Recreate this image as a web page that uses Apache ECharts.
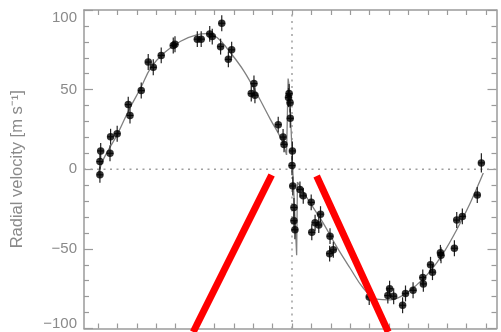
<!DOCTYPE html>
<html><head><meta charset="utf-8">
<script src="https://cdn.jsdelivr.net/npm/echarts@6/dist/echarts.min.js"></script>
<style>html,body{margin:0;padding:0;background:#fff}#c{width:501px;height:332px}</style>
</head><body><div id="c"></div><script>
// observed radial velocities (x in hours from mid-transit, v in m/s)
const obsX = [-9.90,-9.90,-9.86,-9.38,-9.35,-9.01,-8.44,-8.35,-7.77,-7.41,-7.15,-6.74,-6.12,-6.03,-4.88,-4.68,-4.24,-4.11,-3.62,-3.68,-3.28,-3.11,-1.96,-2.10,-1.91,-0.71,-0.46,-0.41,-0.15,-0.18,-0.10,-0.09,0.02,0.00,0.04,0.10,0.10,0.15,0.41,0.58,0.99,1.47,1.19,1.38,1.02,1.96,2.13,1.94,3.98,5.03,4.94,5.24,5.70,5.85,6.24,6.77,6.74,7.24,7.14,7.65,7.68,8.37,8.49,8.78,9.55,9.76];
const obsV = [-3.5,4.8,11.5,10,20.4,22.3,40.6,33.8,49.4,67.3,64,71.5,77.7,78.5,81.7,81.7,85,83.3,91.7,77,69,75,53.8,47.5,46.5,28,20.2,15.6,47.5,45,41.7,32,11.5,2.3,-10.5,-24,-32.3,-38,-12.7,-16.7,-20.8,-28.2,-33.6,-35,-39.6,-42,-50.6,-53,-80.2,-75,-79.3,-79.7,-85.4,-78,-76,-72,-68,-64.6,-60,-52.5,-54,-49.6,-31.9,-29.6,-16.2,4];
const obsErr = [5,5,5,5,5,5,5,5,5,5,5,5,5,5,5,5,5,5,5,5,5,5,5,5,5,5,5,5,6,6,6,6,6,6,6,6,6,6,5,5,5,5,5,5,5,5,5,5,5,5,5,5,5,5,5,5,5,5,5,5,5,5,5,5,5,6];
// model curve
const modelLeftX = [-10.00,-9.69,-9.01,-8.40,-7.80,-7.28,-6.60,-5.74,-4.88,-4.37,-3.85,-3.16,-2.47,-1.79,-1.10,-0.58,-0.28];
const modelLeftV = [-3,7,21.7,37.4,51,63.6,73,80.4,84.6,85.2,82.5,73,61.5,46.9,31,19.6,9];
const modelRMX = [-0.28,-0.20,-0.14,0.04,0.24,0.28];
const modelRMV = [9,57,52,0,-54,-8];
const modelRightX = [0.28,0.93,1.61,2.30,2.99,3.68,4.37,5.05,5.74,6.43,7.11,7.80,8.49,9.18,9.86];
const modelRightV = [-8,-21,-33.8,-48.6,-62,-74.7,-81.6,-82,-79,-72.6,-64.3,-52.7,-38,-21.3,-2.4];
// red annotation strokes
const redLeftX = [-1.05,-5.09];
const redLeftV = [-3.6,-102.2];
const redRightX = [1.27,4.96];
const redRightV = [-4.2,-102.2];
// axes
const xTickValues = [-10,-9,-8,-7,-6,-5,-4,-3,-2,-1,0,1,2,3,4,5,6,7,8,9,10];
const X_MIN = -10.72, X_MAX = 10.54;
const yTickLabels = ['−100','−50','0','50','100'];

const zip = (a,b) => a.map((v,i)=>[v,b[i]]);
const axisGray = '#9a9a9a';
const labelGray = '#8a8a8a';
const font = 'Liberation Sans, Arial, sans-serif';

function yLab(v){
  const idx = [-100,-50,0,50,100].indexOf(v);
  const t = idx>=0 ? yTickLabels[idx] : String(v);
  if (v===100) return '{t|'+t+'}';
  if (v===-100) return '{b|'+t+'}';
  return t;
}
const xAxisBase = (pos) => ({
  type:'value', position:pos, min:X_MIN, max:X_MAX,
  axisLine:{show:true,onZero:false,lineStyle:{color:axisGray,width:1.5}},
  axisTick:{show:true,inside:true,length:5,customValues:xTickValues,lineStyle:{color:axisGray,width:1.2}},
  axisLabel:{show:false}, splitLine:{show:false}
});
const yAxisBase = (pos, labels) => ({
  type:'value', position:pos, min:-100, max:100, interval:50,
  axisLine:{show:true,onZero:false,lineStyle:{color:axisGray,width:1.5}},
  axisTick:{show:true,inside:true,length:9,lineStyle:{color:axisGray,width:1.2}},
  minorTick:{show:true,splitNumber:5,length:5,lineStyle:{color:axisGray,width:1.2}},
  splitLine:{show:false}, minorSplitLine:{show:false},
  axisLabel:{show:labels,margin:7,color:labelGray,fontSize:15,fontFamily:font,formatter:yLab,
    rich:{t:{padding:[15,0,0,0],color:labelGray,fontSize:15,fontFamily:font},
          b:{padding:[0,0,10,0],color:labelGray,fontSize:15,fontFamily:font}}}
});

const chart = echarts.init(document.getElementById('c'), null, {renderer:'canvas'});
const yLeft = yAxisBase('left', true);
yLeft.name = 'Radial velocity [m s⁻¹]';
yLeft.nameLocation = 'middle';
yLeft.nameGap = 58;
yLeft.nameRotate = 90;
yLeft.nameTextStyle = {color:labelGray,fontSize:16.5,fontFamily:font};

chart.setOption({
  animation:false,
  backgroundColor:'#fff',
  grid:{left:84,right:4.5,top:10,bottom:3.5,containLabel:false},
  xAxis:[xAxisBase('bottom'), xAxisBase('top')],
  yAxis:[yLeft, yAxisBase('right', false)],
  series:[
    {type:'line', data:[[X_MIN,0],[X_MAX,0]], symbol:'none', silent:true,
      lineStyle:{color:'#a0a0a0',width:1.5,type:[2,4.5]}, z:1},
    {type:'line', data:[[0,-100],[0,100]], symbol:'none', silent:true,
      lineStyle:{color:'#a0a0a0',width:1.5,type:[2,4.5]}, z:1},
    {type:'line', data:zip(modelLeftX,modelLeftV), smooth:0.4, symbol:'none',
      lineStyle:{color:'#808080',width:1.3}, z:2},
    {type:'line', data:zip(modelRMX,modelRMV), smooth:false, symbol:'none',
      lineStyle:{color:'#808080',width:1.3}, z:2},
    {type:'line', data:zip(modelRightX,modelRightV), smooth:0.4, symbol:'none',
      lineStyle:{color:'#808080',width:1.3}, z:2},
    {type:'custom', data:obsX.map((x,i)=>[x,obsV[i],obsErr[i]]), z:3,
      renderItem:(params, api)=>{
        const x=api.value(0), v=api.value(1), e=api.value(2);
        const t=api.coord([x,v+e]), b=api.coord([x,v-e]);
        const l=api.coord([x-0.17,v]), r=api.coord([x+0.17,v]);
        return {type:'group', children:[
          {type:'line', shape:{x1:t[0],y1:t[1],x2:b[0],y2:b[1]}, style:{stroke:'#222',lineWidth:1.2}},
          {type:'line', shape:{x1:l[0],y1:l[1],x2:r[0],y2:r[1]}, style:{stroke:'#222',lineWidth:1.2}}
        ]};
      }},
    {type:'scatter', data:zip(obsX,obsV), symbol:'circle', symbolSize:7.5,
      itemStyle:{color:'#000'}, z:4},
    {type:'line', data:zip(redLeftX,redLeftV), symbol:'none', clip:false,
      lineStyle:{color:'#ff0000',width:7}, z:10},
    {type:'line', data:zip(redRightX,redRightV), symbol:'none', clip:false,
      lineStyle:{color:'#ff0000',width:7}, z:10}
  ]
});
</script></body></html>
